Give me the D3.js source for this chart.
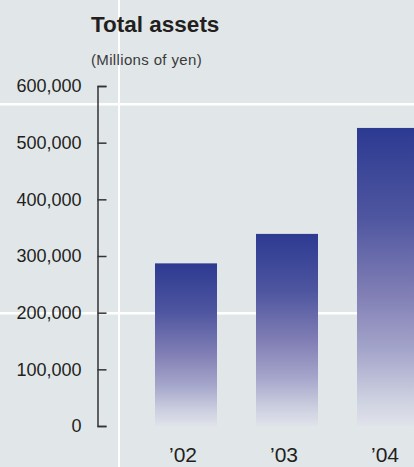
<!DOCTYPE html>
<html>
<head>
<meta charset="utf-8">
<script src="https://cdn.jsdelivr.net/npm/d3@7"></script>
<style>
  html, body { margin: 0; padding: 0; background: #e1e6e9; overflow: hidden; }
  svg { display: block; font-family: "Liberation Sans", Arial, sans-serif; }
</style>
</head>
<body>
<svg id="chart" width="414" height="467"></svg>
<script>
const categories = ["\u201902", "\u201903", "\u201904"];
const totalAssets = [287000, 339000, 526000];
const yTicks = [0, 100000, 200000, 300000, 400000, 500000, 600000];
const title = "Total assets";
const unitLabel = "(Millions of yen)";

const W = 414, H = 467;
const svg = d3.select("#chart");

// background
svg.append("rect").attr("width", W).attr("height", H).attr("fill", "#e1e6e9");

// white page grid lines
svg.append("rect").attr("x", 118).attr("y", 0).attr("width", 2).attr("height", H).attr("fill", "#ffffff");
svg.append("rect").attr("x", 0).attr("y", 103).attr("width", W).attr("height", 2.5).attr("fill", "#ffffff");
svg.append("rect").attr("x", 0).attr("y", 312).attr("width", W).attr("height", 2.5).attr("fill", "#ffffff");

const x = d3.scaleBand().domain(categories).range([135.5, 438.5]).paddingInner(0.386).paddingOuter(0.193);
const y = d3.scaleLinear().domain([0, 600000]).range([426, 86]);

// gradient per bar
const defs = svg.append("defs");
const grad = defs.append("linearGradient").attr("id", "barGrad")
  .attr("x1", 0).attr("y1", 0).attr("x2", 0).attr("y2", 1);
[[0, "#2c3a91"], [0.3, "#4f56a0"], [0.55, "#7f7db4"], [0.75, "#a5a6cb"], [0.9, "#cbcedf"], [1, "#e0e3ea"]]
  .forEach(([o, c]) => grad.append("stop").attr("offset", o).attr("stop-color", c));

svg.append("g").selectAll("rect").data(totalAssets).join("rect")
  .attr("x", (d, i) => x(categories[i]))
  .attr("y", d => y(d))
  .attr("width", x.bandwidth())
  .attr("height", d => y(0) - y(d))
  .attr("fill", "url(#barGrad)");

// y axis
const axis = d3.axisLeft(y).tickValues(yTicks)
  .tickFormat(d3.format(","))
  .tickSizeInner(-9).tickSizeOuter(-9).tickPadding(16);
const gy = svg.append("g").attr("transform", "translate(97.5,0)").call(axis);
gy.selectAll("path, line").attr("stroke", "#333333").attr("stroke-width", 1.5);
gy.selectAll("text").attr("font-size", 18).attr("fill", "#231f20")
  .attr("font-family", "'Liberation Sans', Arial, sans-serif");

// x labels
svg.append("g").selectAll("text").data(categories).join("text")
  .attr("x", d => x(d) + x.bandwidth() / 2 - 3)
  .attr("y", 462)
  .attr("text-anchor", "middle")
  .attr("font-size", 21)
  .attr("fill", "#231f20")
  .text(d => d);

// titles
svg.append("text").attr("x", 91).attr("y", 32).attr("font-size", 22.5)
  .attr("font-weight", "bold").attr("fill", "#231f20").text(title);
svg.append("text").attr("x", 91).attr("y", 64.5).attr("font-size", 15)
  .attr("letter-spacing", 0.35).attr("fill", "#3a3a3a").text(unitLabel);
</script>
</body>
</html>
